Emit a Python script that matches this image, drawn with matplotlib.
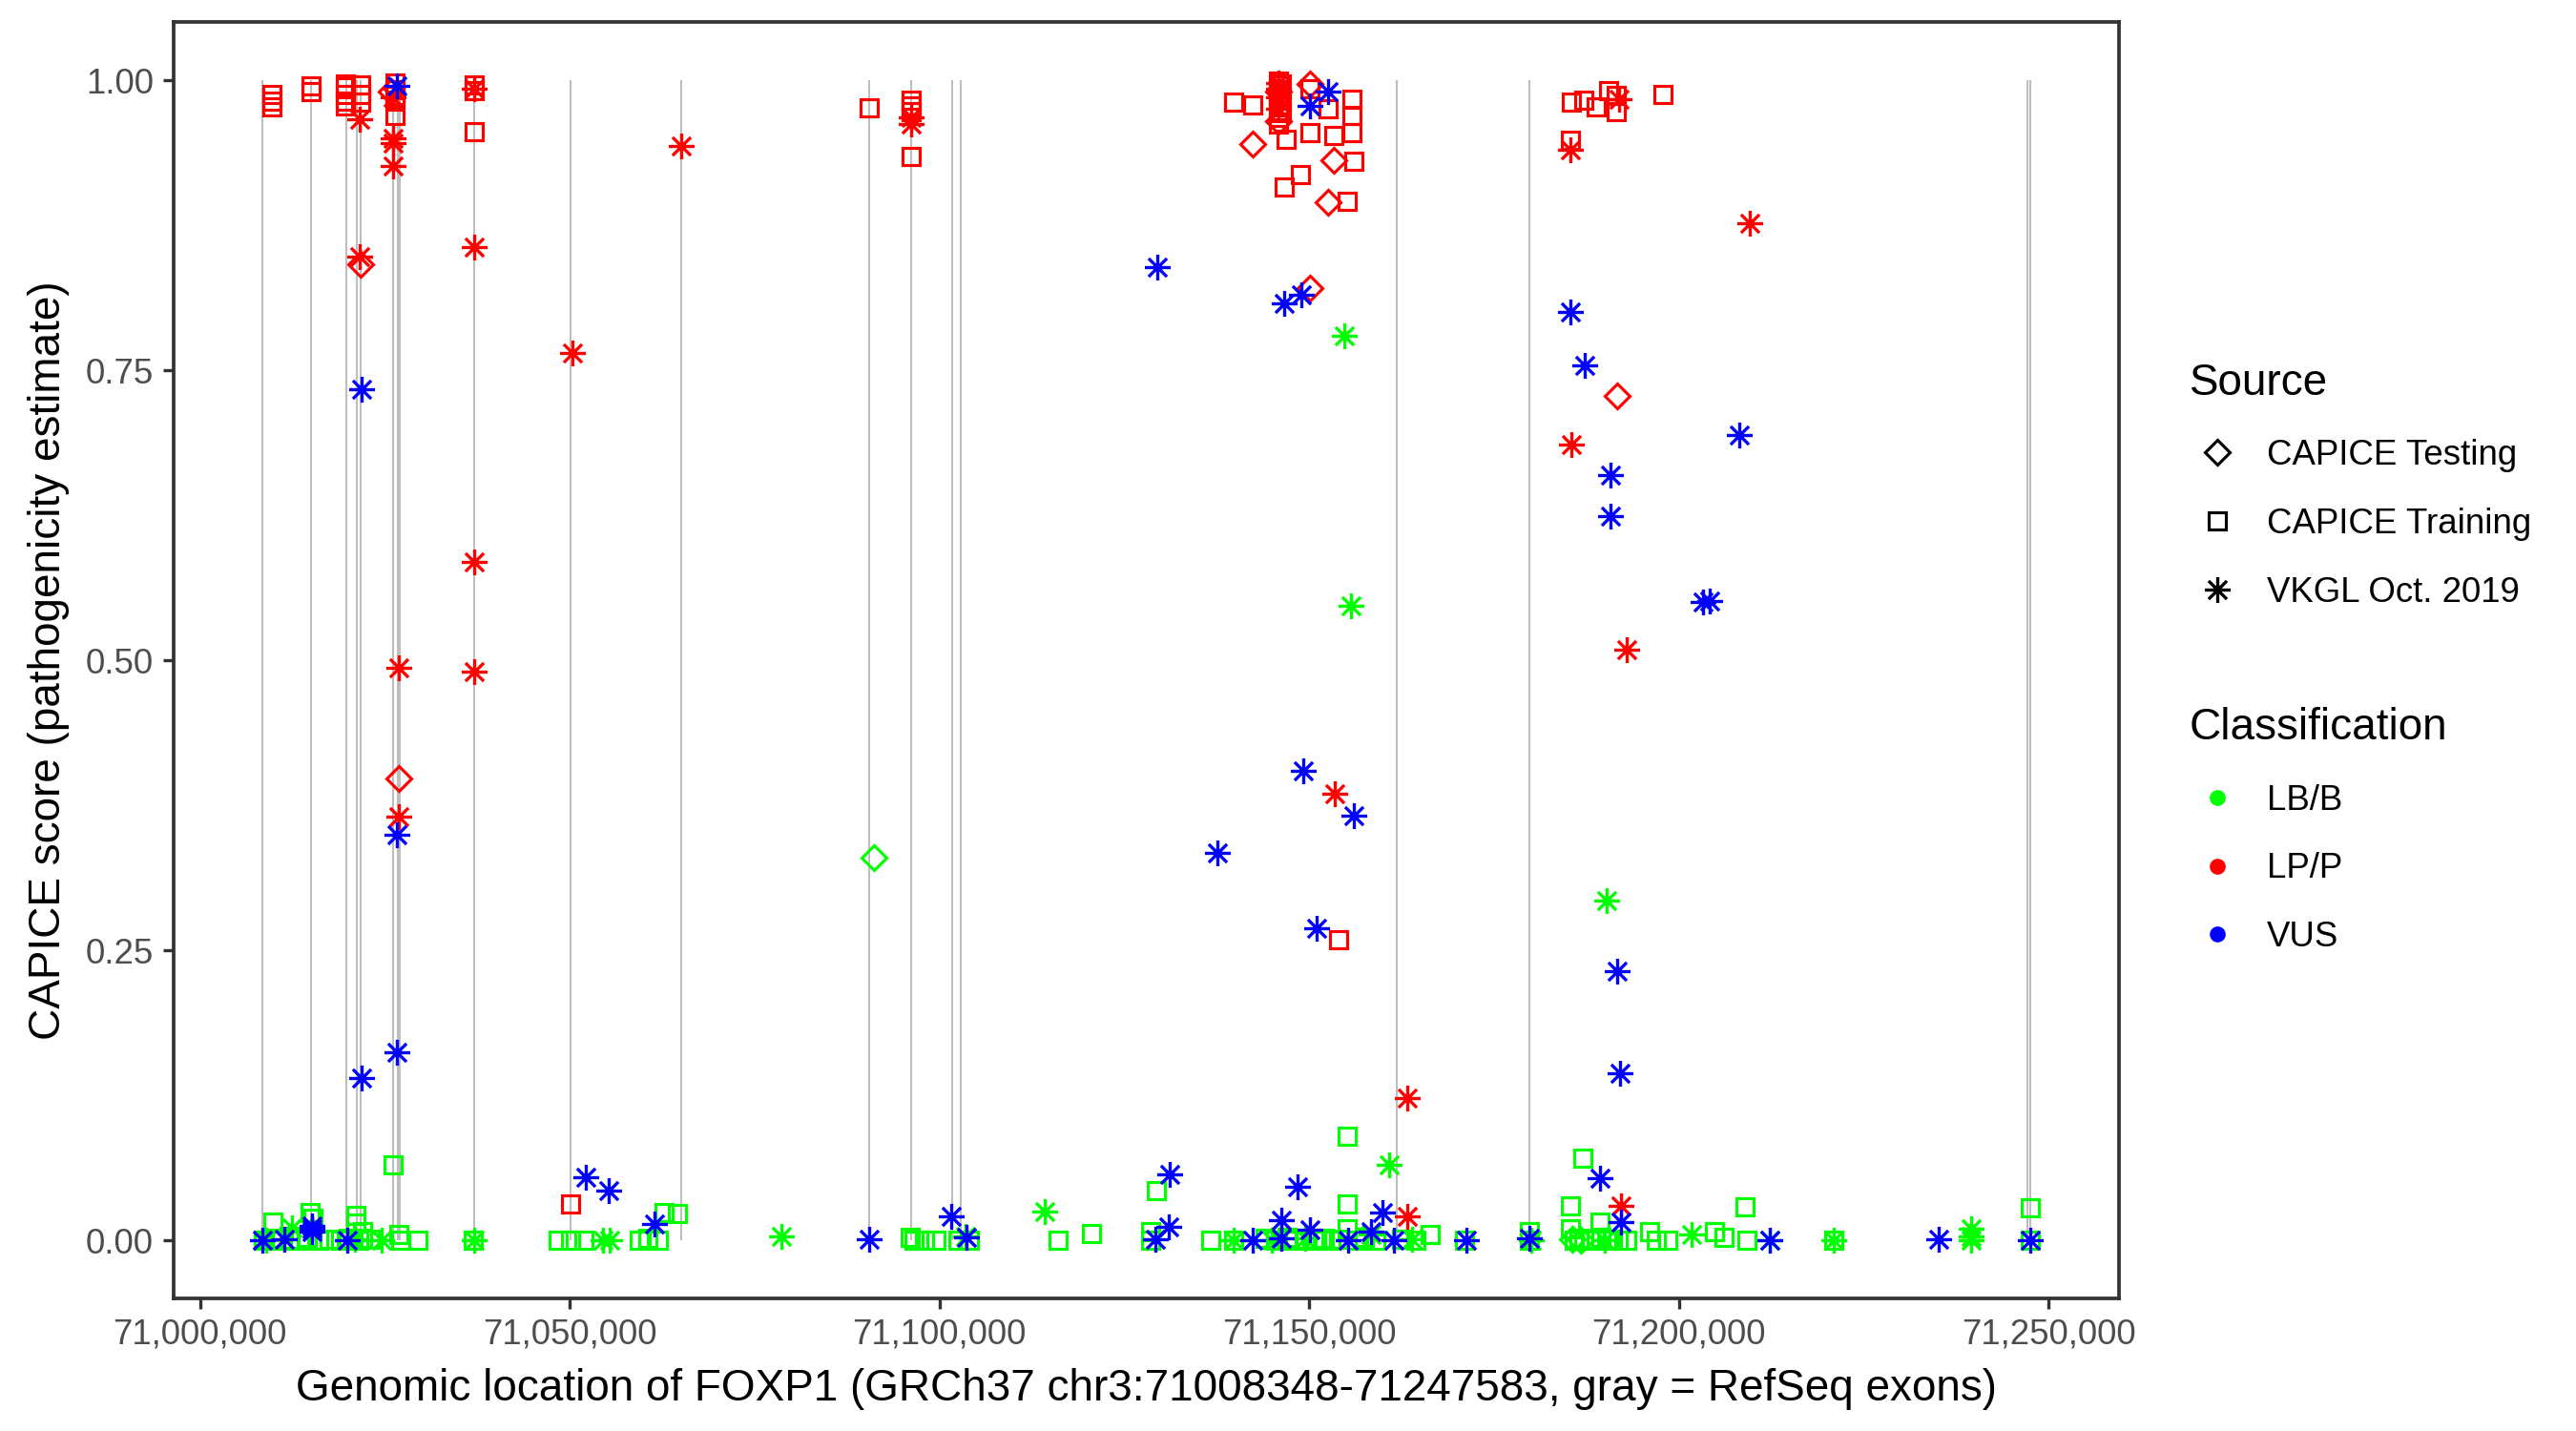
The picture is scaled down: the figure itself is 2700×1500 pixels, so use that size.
import numpy as np
import matplotlib
matplotlib.use('Agg')
import matplotlib.pyplot as plt
from matplotlib.path import Path
from matplotlib.lines import Line2D
from matplotlib.ticker import FuncFormatter

plt.rcParams['font.family'] = ['Liberation Sans', 'DejaVu Sans']

c_lb = '#00FF00'
c_lp = '#FF0000'
c_vus = '#0000FF'
c_exon = '#BEBEBE'

# gene region and exon boundaries (gray lines)
gene_start, gene_end = 71008348, 71247583
exon_lines = [71008400, 71015008, 71019821, 71021202, 71021679, 71026105,
              71026712, 71027009, 71037111, 71050106, 71065036, 71090535,
              71096174, 71101680, 71102846, 71161817, 71179789, 71247100,
              71247583]

# ---- CAPICE Training ----
train_lp_x = [71009750, 71009750, 71009750, 71014970, 71014970,
              71019700, 71019700, 71019700, 71019700, 71019700,
              71021760, 71021760, 71021760,
              71026300, 71026300, 71026300, 71026300, 71026300,
              71037110, 71037110, 71037110, 71050060, 71090460,
              71096174, 71096174, 71096174, 71096174,
              71139830, 71142330,
              71145800, 71145800, 71145800, 71145800, 71145800, 71145800,
              71145800, 71145800, 71145800, 71146300, 71146300, 71146300,
              71146930, 71146590, 71148860, 71150070, 71150070, 71152530,
              71153390, 71155750, 71155750, 71155750, 71156050, 71155200,
              71154000,
              71185430, 71187150, 71188870, 71190500, 71191600, 71191600,
              71197900, 71185300]
train_lp_y = [0.988, 0.982, 0.977, 0.995, 0.990,
              0.997, 0.994, 0.988, 0.982, 0.978,
              0.996, 0.988, 0.981,
              0.998, 0.992, 0.987, 0.982, 0.970,
              0.996, 0.991, 0.956, 0.032, 0.976,
              0.983, 0.978, 0.973, 0.934,
              0.981, 0.979,
              0.999, 0.996, 0.992, 0.988, 0.984, 0.979,
              0.974, 0.968, 0.962, 0.997, 0.985, 0.972,
              0.949, 0.908, 0.919, 0.993, 0.955, 0.975,
              0.952, 0.984, 0.970, 0.955, 0.930, 0.896,
              0.259,
              0.981, 0.983, 0.977, 0.991, 0.987, 0.973,
              0.988, 0.948]

train_lb_x = [71009850, 71014880, 71015200, 71021110, 71021110, 71022000,
              71022000, 71026090,
              71008600, 71010000, 71011000, 71012000, 71013500, 71014500,
              71016000, 71017500, 71019000, 71020000, 71021500, 71023000,
              71026920, 71027200, 71029500, 71037000,
              71048380, 71050100, 71051940, 71059340, 71060600, 71061920,
              71062790, 71064520,
              71096000, 71096500, 71098000, 71099500, 71102500, 71104000,
              71116000, 71120600, 71128600, 71128600, 71129380, 71136730,
              71139830, 71144000, 71145500, 71147000, 71148000, 71149500,
              71151000, 71152000, 71153000, 71154000, 71156500, 71157500,
              71159000, 71162500, 71164500, 71155110, 71155190, 71155200,
              71166410, 71171000, 71179830, 71179830,
              71187060, 71185340, 71185400, 71189300,
              71185800, 71186500, 71187200, 71188000, 71188800, 71189500,
              71190300, 71191000, 71191800, 71193000,
              71196000, 71197000, 71198500, 71204800, 71206100, 71209000,
              71209200, 71220900, 71247500, 71247500]
train_lb_y = [0.016, 0.024, 0.019, 0.022, 0.015, 0.008,
              0.002, 0.065,
              0.000, 0.002, 0.000, 0.001, 0.000, 0.003,
              0.000, 0.001, 0.000, 0.002, 0.000, 0.001,
              0.005, 0.000, 0.000, 0.000,
              0.000, 0.000, 0.000, 0.000, 0.002, 0.000,
              0.024, 0.023,
              0.003, 0.000, 0.000, 0.000, 0.000, 0.000,
              0.000, 0.006, 0.000, 0.008, 0.043, 0.000,
              0.000, 0.002, 0.000, 0.003, 0.000, 0.001,
              0.000, 0.002, 0.000, 0.001, 0.000, 0.003,
              0.000, 0.001, 0.000, 0.090, 0.032, 0.010,
              0.005, 0.000, 0.008, 0.000,
              0.071, 0.030, 0.010, 0.016,
              0.000, 0.002, 0.000, 0.001, 0.000, 0.003,
              0.000, 0.001, 0.000, 0.000,
              0.008, 0.000, 0.000, 0.008, 0.003, 0.029,
              0.000, 0.000, 0.028, 0.000]

# ---- CAPICE Testing ----
test_lp_x = [71021760, 71025900, 71026900, 71142410, 71145800, 71145800,
             71152530, 71153390, 71150070, 71150070, 71191650]
test_lp_y = [0.841, 0.990, 0.398, 0.945, 0.990, 0.965,
             0.895, 0.931, 0.821, 0.997, 0.728]

test_lb_x = [71091100, 71185600, 71186800]
test_lb_y = [0.330, 0.001, 0.000]

# ---- VKGL Oct. 2019 ----
vkgl_lp_x = [71021630, 71021630, 71026100, 71026100, 71026100, 71026100,
             71026900, 71026900, 71037110, 71037110, 71037110, 71037110,
             71050300, 71065040, 71096174, 71096174,
             71145800, 71145800, 71145800, 71145800, 71153450,
             71163280, 71163280, 71185300, 71185500, 71191880, 71193000,
             71192220, 71209640]
vkgl_lp_y = [0.966, 0.848, 0.950, 0.946, 0.926, 0.985,
             0.494, 0.365, 0.993, 0.856, 0.585, 0.490,
             0.765, 0.943, 0.962, 0.968,
             0.998, 0.993, 0.985, 0.975, 0.385,
             0.123, 0.021, 0.940, 0.686, 0.984, 0.509,
             0.030, 0.877]

vkgl_vus_x = [71021870, 71021870, 71026660, 71026660, 71026660,
              71008430, 71011430, 71015100, 71015100, 71015100, 71019910,
              71052210, 71055320, 71061520, 71090520, 71101600, 71103700,
              71129420, 71129170, 71131010, 71131100, 71137600, 71142410,
              71146280, 71146280, 71146590, 71148430, 71149000, 71149200,
              71150070, 71150070, 71151000, 71152530, 71155320, 71156100,
              71158340, 71159960, 71161470, 71171240, 71179830,
              71185300, 71187300, 71189400, 71190800, 71190800, 71191650,
              71192100, 71192220, 71203300, 71204200, 71208200, 71212300,
              71235100, 71247500]
vkgl_vus_y = [0.734, 0.140, 0.995, 0.350, 0.162,
              0.000, 0.001, 0.010, 0.008, 0.013, 0.000,
              0.055, 0.043, 0.014, 0.001, 0.021, 0.003,
              0.839, 0.001, 0.012, 0.057, 0.334, 0.000,
              0.018, 0.002, 0.808, 0.046, 0.815, 0.405,
              0.978, 0.009, 0.269, 0.990, 0.000, 0.366,
              0.008, 0.024, 0.000, 0.000, 0.002,
              0.800, 0.754, 0.054, 0.660, 0.624, 0.232,
              0.144, 0.016, 0.550, 0.551, 0.694, 0.000,
              0.001, 0.000]

vkgl_lb_x = [71154760, 71155700, 71190300, 71160790, 71114300, 71078600,
             71012430, 71024560, 71037040, 71054450, 71055420, 71103500,
             71139830, 71145000, 71149500, 71158340, 71163920, 71180000,
             71190000, 71201760, 71212300, 71220900, 71239500, 71239500,
             71239500, 71009000, 71021000]
vkgl_lb_y = [0.780, 0.547, 0.293, 0.065, 0.025, 0.004,
             0.011, 0.000, 0.000, 0.000, 0.000, 0.004,
             0.000, 0.000, 0.002, 0.005, 0.001, 0.000,
             0.000, 0.005, 0.000, 0.000, 0.010, 0.004,
             0.000, 0.000, 0.001]

# asterisk marker like ggplot shape 8
d = np.sqrt(0.5)
ast_path = Path([(0, -1), (0, 1), (-1, 0), (1, 0), (-d, -d), (d, d), (-d, d), (d, -d)],
                [Path.MOVETO, Path.LINETO] * 4)

fig = plt.figure(figsize=(9, 5), dpi=300)
ax = fig.add_axes([0.0673, 0.0925, 0.8226 - 0.0673, 0.9845 - 0.0925])

ax.vlines(exon_lines, 0, 1, color=c_exon, lw=0.5, zorder=1)

sq = dict(marker='s', ms=4.4, mew=0.75, mfc='none', ls='none', zorder=3)
dm = dict(marker='D', ms=4.4, mew=0.75, mfc='none', ls='none', zorder=3)
st = dict(marker=ast_path, ms=6.5, mew=0.8, ls='none', zorder=3)

ax.plot(train_lb_x, train_lb_y, mec=c_lb, **sq)
ax.plot(test_lb_x, test_lb_y, mec=c_lb, **dm)
ax.plot(vkgl_lb_x, vkgl_lb_y, mec=c_lb, **st)
ax.plot(train_lp_x, train_lp_y, mec=c_lp, **sq)
ax.plot(test_lp_x, test_lp_y, mec=c_lp, **dm)
ax.plot(vkgl_lp_x, vkgl_lp_y, mec=c_lp, **st)
ax.plot(vkgl_vus_x, vkgl_vus_y, mec=c_vus, **st)

span = gene_end - gene_start
ax.set_xlim(gene_start - 0.05 * span, gene_end + 0.05 * span)
ax.set_ylim(-0.05, 1.05)
ax.set_xticks([71000000, 71050000, 71100000, 71150000, 71200000, 71250000])
ax.set_yticks([0, 0.25, 0.5, 0.75, 1.0])
ax.xaxis.set_major_formatter(FuncFormatter(lambda v, p: f'{int(v):,}'))
ax.yaxis.set_major_formatter(FuncFormatter(lambda v, p: f'{v:.2f}'))
ax.tick_params(length=2.75, width=0.8, color='#333333', labelcolor='#4D4D4D',
               labelsize=8.8, pad=2.2)
for s in ax.spines.values():
    s.set_color('#333333')
    s.set_linewidth(0.9)

ax.set_xlabel('Genomic location of FOXP1 (GRCh37 chr3:71008348-71247583, gray = RefSeq exons)',
              fontsize=11, labelpad=4)
ax.set_ylabel('CAPICE score (pathogenicity estimate)', fontsize=11, labelpad=4)

# legends
src_handles = [Line2D([0], [0], marker='D', ms=4.4, mew=0.75, mfc='none', mec='black', ls='none'),
               Line2D([0], [0], marker='s', ms=4.4, mew=0.75, mfc='none', mec='black', ls='none'),
               Line2D([0], [0], marker=ast_path, ms=6.5, mew=0.8, mec='black', ls='none')]
leg1 = fig.legend(src_handles, ['CAPICE Testing', 'CAPICE Training', 'VKGL Oct. 2019'],
                  title='Source', loc='upper left', bbox_to_anchor=(0.850, 0.747),
                  frameon=False, fontsize=8.8, title_fontsize=11, alignment='left',
                  handlelength=1.6, handletextpad=0.6, labelspacing=1.0,
                  borderaxespad=0, borderpad=0)

cls_handles = [Line2D([0], [0], marker='o', ms=4.0, mew=0, mfc=c, ls='none')
               for c in (c_lb, c_lp, c_vus)]
leg2 = fig.legend(cls_handles, ['LB/B', 'LP/P', 'VUS'],
                  title='Classification', loc='upper left', bbox_to_anchor=(0.850, 0.506),
                  frameon=False, fontsize=8.8, title_fontsize=11, alignment='left',
                  handlelength=1.6, handletextpad=0.6, labelspacing=1.0,
                  borderaxespad=0, borderpad=0)

fig.savefig('out.png', dpi=300, facecolor='white')
